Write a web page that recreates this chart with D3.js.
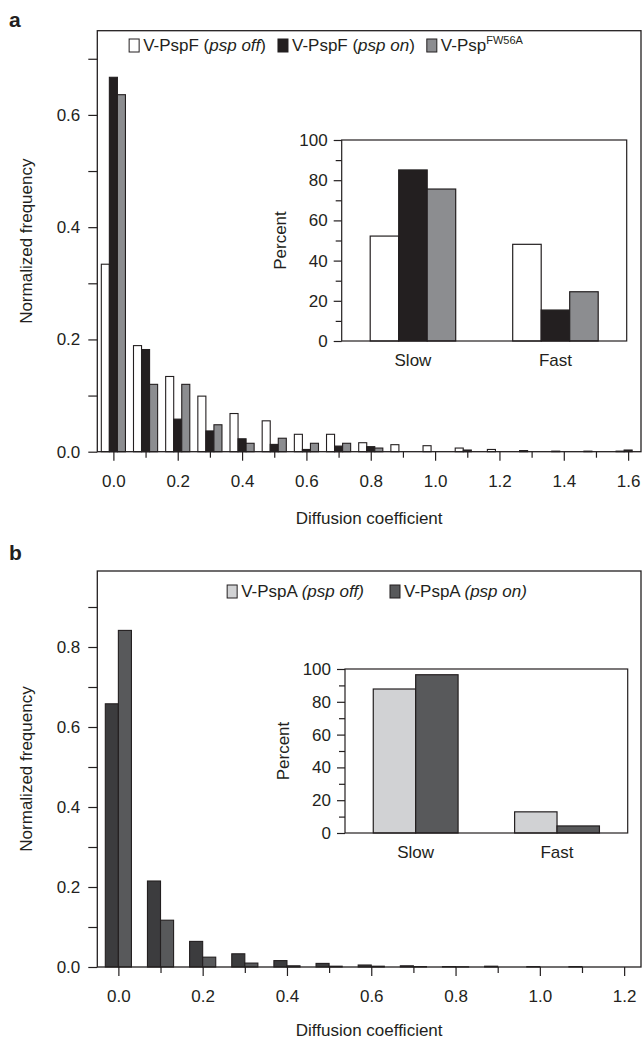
<!DOCTYPE html>
<html>
<head>
<meta charset="utf-8">
<script src="https://cdn.jsdelivr.net/npm/d3@7"></script>
<style>
body { margin: 0; background: #fff; }
svg text { font-family: "Liberation Sans", Arial, sans-serif; fill: #231f20; }
</style>
</head>
<body>
<svg id="chart" width="642" height="1043"></svg>
<script>
// ---- panel a data ----
const binsA = [0.0, 0.1, 0.2, 0.3, 0.4, 0.5, 0.6, 0.7, 0.8, 0.9, 1.0, 1.1, 1.2, 1.3, 1.4, 1.5, 1.6];
const pspFOff = [0.334, 0.189, 0.134, 0.099, 0.068, 0.055, 0.031, 0.031, 0.016, 0.0125, 0.0107, 0.0065, 0.004, 0.002, 0.001, 0.001, 0.001];
const pspFOn = [0.667, 0.182, 0.058, 0.037, 0.023, 0.013, 0.004, 0.010, 0.009, 0, 0, 0.003, 0, 0, 0, 0, 0.003];
const pspFW56A = [0.636, 0.120, 0.120, 0.048, 0.015, 0.024, 0.015, 0.015, 0.0065, 0, 0, 0, 0, 0, 0, 0, 0];
const xTicksA = [0.0, 0.2, 0.4, 0.6, 0.8, 1.0, 1.2, 1.4, 1.6];
const yTicksA = [0.0, 0.2, 0.4, 0.6];

const insetCategories = ["Slow", "Fast"];
const insetAOff = [52.2, 48.1];
const insetAOn = [85.1, 15.4];
const insetAMut = [75.6, 24.5];

// ---- panel b data ----
const binsB = [0.0, 0.1, 0.2, 0.3, 0.4, 0.5, 0.6, 0.7, 0.8, 0.9, 1.0, 1.1, 1.2];
const pspAOff = [0.658, 0.215, 0.064, 0.033, 0.016, 0.009, 0.005, 0.003, 0.001, 0.002, 0.001, 0.001, 0];
const pspAOn = [0.8415, 0.117, 0.0246, 0.0098, 0.003, 0.002, 0.002, 0.001, 0.0005, 0, 0, 0, 0];
const xTicksB = [0.0, 0.2, 0.4, 0.6, 0.8, 1.0, 1.2];
const yTicksB = [0.0, 0.2, 0.4, 0.6, 0.8];

const insetBOff = [87.8, 12.9];
const insetBOn = [96.5, 4.3];
const insetTicks = [0, 20, 40, 60, 80, 100];

const INK = "#231f20";
const COLOR = {
    white: "#ffffff",
    black: "#231f20",
    gray: "#8c8d90",
    light: "#d1d2d4",
    dark: "#58595b",
    darker: "#3c3c3e"
};

const svg = d3.select("#chart");
const fmt1 = d3.format(".1f");
const inList = (list, v) => list.some(t => Math.abs(t - v) < 1e-6);

function histogram({ left, right, top, bottom, xDomain, yMax, bins, series, barWidth, xLabels, yLabels, xTitleY }) {
    const g = svg.append("g");
    const x = d3.scaleLinear().domain(xDomain).range([left, right]);
    const y = d3.scaleLinear().domain([0, yMax]).range([bottom, top]);
    const bw = x(barWidth) - x(0);

    series.forEach((s, si) => {
        const offset = (si - (series.length - 1) / 2) * barWidth;
        g.append("g")
            .selectAll("rect")
            .data(bins.map((b, i) => ({ b, v: s.values[i] })).filter(d => d.v > 0))
            .join("rect")
            .attr("x", d => x(d.b + offset) - bw / 2)
            .attr("width", bw)
            .attr("y", d => y(d.v))
            .attr("height", d => y(0) - y(d.v))
            .attr("fill", s.fill)
            .attr("stroke", INK)
            .attr("stroke-width", 1.1);
    });

    // x axis: ticks every 0.1, labels every 0.2
    const xAxis = g.append("g")
        .attr("transform", `translate(0,${ bottom })`)
        .call(d3.axisBottom(x)
            .tickValues(bins)
            .tickSize(9)
            .tickPadding(14)
            .tickFormat(d => inList(xLabels, d) ? fmt1(d) : ""));
    xAxis.select(".domain").remove();
    xAxis.selectAll(".tick line")
        .attr("stroke", INK)
        .attr("stroke-width", 1.2)
        .attr("y2", d => inList(xLabels, d) ? 9 : 6);
    xAxis.selectAll(".tick text").attr("font-size", 17).attr("fill", INK);

    const yMinor = d3.range(0, Math.floor(yMax * 10 + 1e-6) + 1).map(i => i / 10);
    const yAxis = g.append("g")
        .attr("transform", `translate(${ left },0)`)
        .call(d3.axisLeft(y)
            .tickValues(yMinor)
            .tickSize(9)
            .tickPadding(8)
            .tickFormat(d => inList(yLabels, d) ? fmt1(d) : ""));
    yAxis.select(".domain").remove();
    yAxis.selectAll(".tick line").attr("stroke", INK).attr("stroke-width", 1.2);
    yAxis.selectAll(".tick text").attr("font-size", 17).attr("fill", INK);

    g.append("rect")
        .attr("x", left)
        .attr("y", top)
        .attr("width", right - left)
        .attr("height", bottom - top)
        .attr("fill", "none")
        .attr("stroke", INK)
        .attr("stroke-width", 1.3);

    g.append("text")
        .attr("x", (left + right) / 2)
        .attr("y", xTitleY)
        .attr("text-anchor", "middle")
        .attr("font-size", 17)
        .text("Diffusion coefficient");

    g.append("text")
        .attr("transform", `translate(32,${ (top + bottom) / 2 }) rotate(-90)`)
        .attr("text-anchor", "middle")
        .attr("font-size", 17)
        .text("Normalized frequency");

    return g;
}

function inset({ left, right, top, bottom, series }) {
    const g = svg.append("g");
    const x = d3.scaleBand().domain(insetCategories).range([left, right]);
    const inner = d3.scaleBand()
        .domain(d3.range(series.length))
        .range([0, x.step() * 0.6]);
    const y = d3.scaleLinear().domain([0, 100]).range([bottom, top]);
    const groupOffset = x.step() * 0.2;

    series.forEach((s, si) => {
        g.append("g")
            .selectAll("rect")
            .data(insetCategories.map((c, i) => ({ c, v: s.values[i] })))
            .join("rect")
            .attr("x", d => x(d.c) + groupOffset + inner(si))
            .attr("width", inner.bandwidth())
            .attr("y", d => y(d.v))
            .attr("height", d => y(0) - y(d.v))
            .attr("fill", s.fill)
            .attr("stroke", INK)
            .attr("stroke-width", 1.2);
    });

    const yAxis = g.append("g")
        .attr("transform", `translate(${ left },0)`)
        .call(d3.axisLeft(y)
            .tickValues(d3.range(0, 101, 10))
            .tickSize(8)
            .tickPadding(6)
            .tickFormat(d => insetTicks.includes(d) ? d : ""));
    yAxis.select(".domain").remove();
    yAxis.selectAll(".tick line")
        .attr("stroke", INK)
        .attr("stroke-width", 1.2)
        .attr("x2", d => insetTicks.includes(d) ? -8 : -6);
    yAxis.selectAll(".tick text").attr("font-size", 17).attr("fill", INK);

    g.append("rect")
        .attr("x", left)
        .attr("y", top)
        .attr("width", right - left)
        .attr("height", bottom - top)
        .attr("fill", "none")
        .attr("stroke", INK)
        .attr("stroke-width", 1.2);

    g.selectAll(".cat")
        .data(insetCategories)
        .join("text")
        .attr("class", "cat")
        .attr("x", d => x(d) + x.bandwidth() / 2)
        .attr("y", bottom + 25)
        .attr("text-anchor", "middle")
        .attr("font-size", 17)
        .text(d => d);

    g.append("text")
        .attr("transform", `translate(${ left - 56 },${ (top + bottom) / 2 }) rotate(-90)`)
        .attr("text-anchor", "middle")
        .attr("font-size", 17)
        .text("Percent");
}

function legend({ cx, y, gap, items }) {
    const g = svg.append("g");
    let cursor = 0;
    items.forEach(item => {
        g.append("rect")
            .attr("x", cursor)
            .attr("y", y - 12)
            .attr("width", 10)
            .attr("height", 13)
            .attr("fill", item.fill)
            .attr("stroke", INK)
            .attr("stroke-width", 1);
        const t = g.append("text")
            .attr("x", cursor + 14)
            .attr("y", y)
            .attr("font-size", 17);
        item.parts.forEach(([str, style]) => {
            const ts = t.append("tspan").text(str);
            if (style === "italic") ts.attr("font-style", "italic");
            if (style === "sup") ts.attr("font-size", 11).attr("dy", -7);
        });
        cursor += 14 + t.node().getComputedTextLength() + gap;
    });
    const width = cursor - gap;
    g.attr("transform", `translate(${ cx - width / 2 },0)`);
}

// panel labels
svg.append("text").attr("x", 9).attr("y", 27).attr("font-size", 21).attr("font-weight", "bold").text("a");
svg.append("text").attr("x", 9).attr("y", 560).attr("font-size", 21).attr("font-weight", "bold").text("b");

// ---- panel a ----
histogram({
    left: 97.3, right: 641, top: 30.7, bottom: 451.7,
    xDomain: [-0.05, 1.64], yMax: 0.75,
    bins: binsA,
    series: [
        { values: pspFOff, fill: COLOR.white },
        { values: pspFOn, fill: COLOR.black },
        { values: pspFW56A, fill: COLOR.gray }
    ],
    barWidth: 0.025,
    xLabels: xTicksA, yLabels: yTicksA,
    xTitleY: 524
});

legend({
    cx: 326, y: 51, gap: 12,
    items: [
        { fill: COLOR.white, parts: [["V-PspF (", ""], ["psp off", "italic"], [")", ""]] },
        { fill: COLOR.black, parts: [["V-PspF (", ""], ["psp on", "italic"], [")", ""]] },
        { fill: COLOR.gray, parts: [["V-Psp", ""], ["FW56A", "sup"]] }
    ]
});

inset({
    left: 341.7, right: 626.7, top: 140, bottom: 341,
    series: [
        { values: insetAOff, fill: COLOR.white },
        { values: insetAOn, fill: COLOR.black },
        { values: insetAMut, fill: COLOR.gray }
    ]
});

// ---- panel b ----
histogram({
    left: 97.3, right: 641, top: 571, bottom: 967,
    xDomain: [-0.05, 1.24], yMax: 0.99,
    bins: binsB,
    series: [
        { values: pspAOff, fill: COLOR.darker },
        { values: pspAOn, fill: COLOR.dark }
    ],
    barWidth: 0.031,
    xLabels: xTicksB, yLabels: yTicksB,
    xTitleY: 1036
});

legend({
    cx: 377, y: 597, gap: 26,
    items: [
        { fill: COLOR.light, parts: [["V-PspA ", ""], ["(psp off)", "italic"]] },
        { fill: COLOR.dark, parts: [["V-PspA ", ""], ["(psp on)", "italic"]] }
    ]
});

inset({
    left: 345, right: 627.7, top: 669, bottom: 833,
    series: [
        { values: insetBOff, fill: COLOR.light },
        { values: insetBOn, fill: COLOR.dark }
    ]
});
</script>
</body>
</html>
